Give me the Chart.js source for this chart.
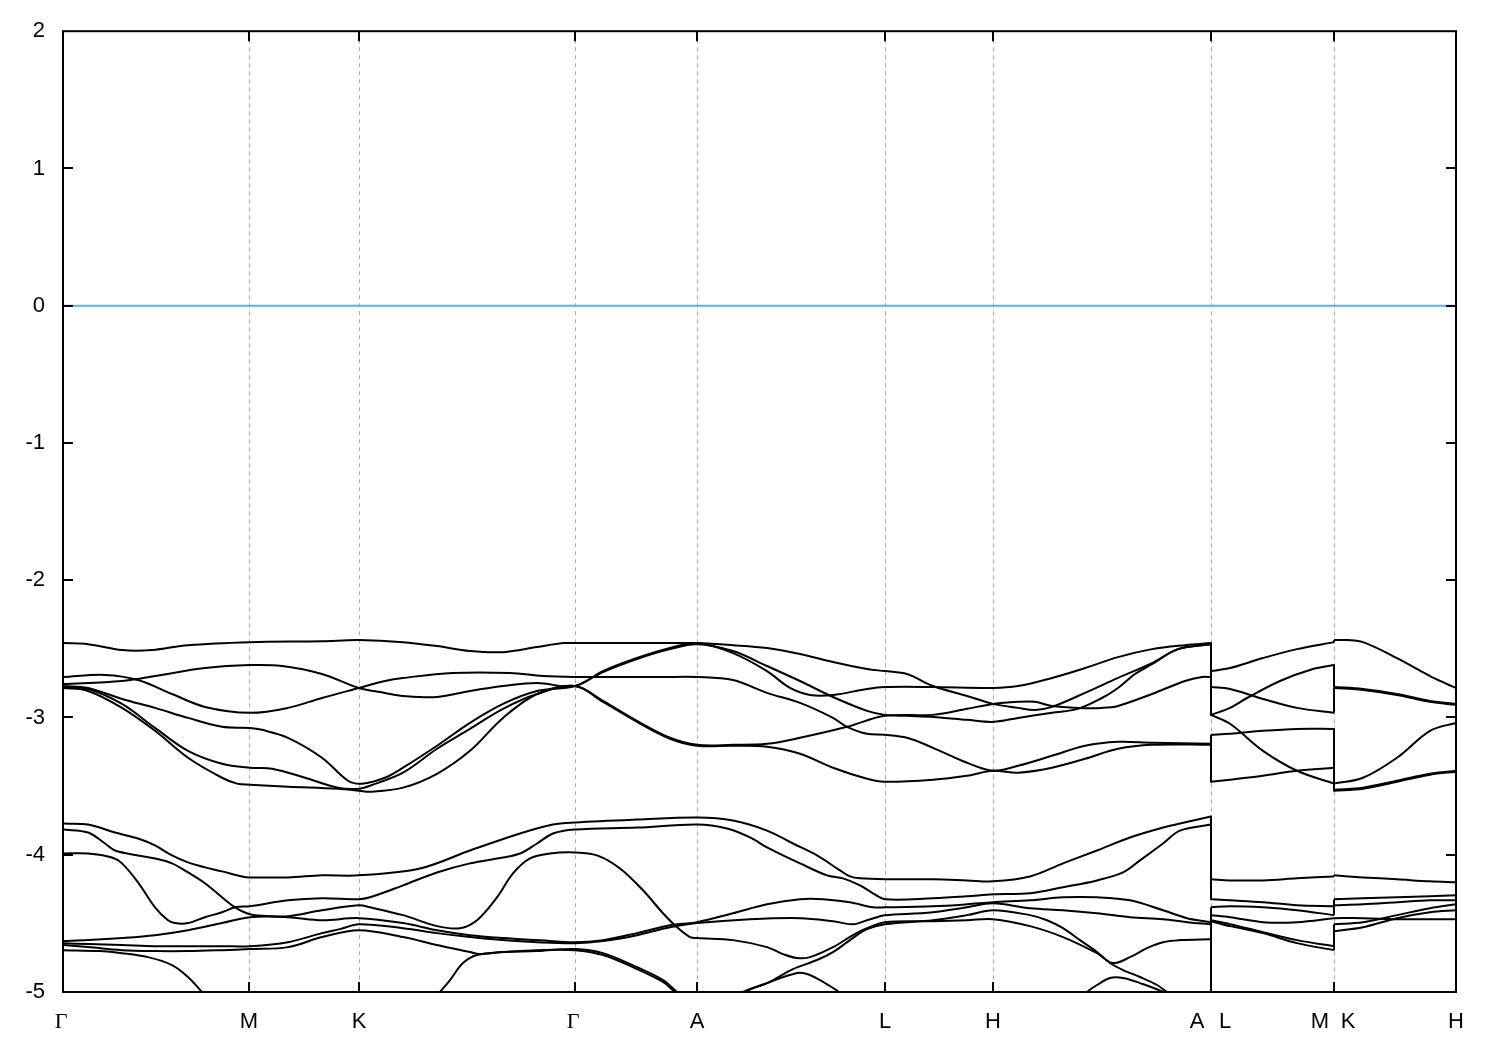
<!DOCTYPE html>
<html><head><meta charset="utf-8">
<script src="https://cdn.jsdelivr.net/npm/chart.js@4.4.1/dist/chart.umd.min.js"></script>
<style>html,body{margin:0;padding:0;background:#fff}canvas{display:block}</style>
</head><body>
<canvas id="c" width="1500" height="1050"></canvas>
<script>
// High-symmetry points along the k-path (path distance units)
const kTicks  = [0, 186, 296, 512, 634, 822, 930, 1148, 1271, 1393];
const kLabels = ['Γ', 'M', 'K', 'Γ', 'A', 'L', 'H', 'A|L', 'M|K', 'H'];
const energyMin = -5, energyMax = 2;
const fermiLevel = 0;

// Bands: [k, E] pairs; repeated k = path discontinuity; null = band out of view
const band1 = [[0,-2.458],[25,-2.466],[59,-2.509],[89,-2.509],[125,-2.473],[187,-2.451],[259,-2.444],[296,-2.436],[340,-2.451],[374,-2.480],[407,-2.516],[440,-2.524],[474,-2.487],[500,-2.458],[512,-2.458],[560,-2.458],[600,-2.458],[634,-2.458],[670,-2.473],[704,-2.494],[737,-2.538],[770,-2.596],[804,-2.647],[822,-2.662],[844,-2.683],[870,-2.771],[904,-2.843],[930,-2.901],[955,-2.930],[972,-2.945],[989,-2.923],[1022,-2.821],[1055,-2.712],[1089,-2.604],[1115,-2.502],[1148,-2.466],[1148,-2.778],[1167,-2.792],[1200,-2.865],[1234,-2.930],[1271,-2.966],[1271,-2.785],[1300,-2.800],[1334,-2.836],[1367,-2.886],[1393,-2.908]];
const band2 = [[0,-2.756],[59,-2.734],[92,-2.698],[142,-2.640],[187,-2.618],[219,-2.625],[259,-2.683],[296,-2.785],[322,-2.821],[340,-2.843],[374,-2.851],[407,-2.807],[440,-2.771],[474,-2.749],[512,-2.771],[540,-2.662],[574,-2.567],[607,-2.494],[634,-2.458],[670,-2.531],[704,-2.662],[727,-2.785],[747,-2.836],[770,-2.836],[804,-2.792],[822,-2.778],[870,-2.778],[930,-2.785],[955,-2.771],[989,-2.712],[1022,-2.640],[1055,-2.560],[1089,-2.502],[1122,-2.473],[1148,-2.458],[1148,-2.662],[1167,-2.640],[1200,-2.567],[1234,-2.502],[1271,-2.451],[1271,-2.436],[1284,-2.436],[1300,-2.451],[1334,-2.567],[1367,-2.698],[1384,-2.756],[1393,-2.785]];
const band3 = [[0,-2.771],[25,-2.785],[59,-2.865],[92,-2.930],[125,-3.003],[159,-3.068],[187,-3.076],[199,-3.090],[225,-3.148],[259,-3.293],[285,-3.461],[299,-3.482],[322,-3.439],[340,-3.366],[374,-3.206],[407,-3.039],[440,-2.901],[474,-2.807],[512,-2.771],[540,-2.669],[574,-2.574],[607,-2.502],[634,-2.466],[670,-2.516],[704,-2.625],[737,-2.734],[770,-2.851],[804,-2.952],[822,-2.981],[844,-2.988],[870,-2.996],[904,-3.017],[930,-3.032],[955,-3.003],[989,-2.966],[1015,-2.937],[1039,-2.858],[1055,-2.785],[1072,-2.683],[1089,-2.611],[1115,-2.502],[1148,-2.466],[1148,-2.981],[1167,-2.930],[1184,-2.858],[1217,-2.734],[1250,-2.647],[1271,-2.618],[1271,-2.778],[1300,-2.792],[1334,-2.829],[1367,-2.879],[1393,-2.901]];
const band4 = [[0,-2.705],[42,-2.690],[75,-2.727],[109,-2.829],[142,-2.923],[187,-2.966],[225,-2.930],[259,-2.858],[296,-2.785],[322,-2.734],[340,-2.712],[390,-2.676],[447,-2.676],[480,-2.698],[512,-2.705],[560,-2.705],[600,-2.705],[634,-2.705],[670,-2.727],[704,-2.821],[737,-2.894],[770,-3.003],[784,-3.068],[804,-3.119],[822,-3.126],[844,-3.148],[870,-3.221],[904,-3.330],[930,-3.388],[955,-3.352],[989,-3.279],[1022,-3.206],[1055,-3.177],[1089,-3.184],[1148,-3.192],[1148,-3.126],[1167,-3.119],[1200,-3.097],[1234,-3.083],[1271,-3.083],[1271,-3.482],[1300,-3.439],[1334,-3.293],[1367,-3.097],[1393,-3.039]];
const band5 = [[0,-2.778],[25,-2.792],[59,-2.901],[92,-3.076],[125,-3.243],[159,-3.337],[187,-3.366],[209,-3.373],[242,-3.439],[275,-3.511],[296,-3.519],[307,-3.497],[340,-3.402],[374,-3.228],[407,-3.083],[440,-2.937],[474,-2.829],[512,-2.771],[540,-2.879],[574,-3.025],[607,-3.148],[634,-3.199],[670,-3.199],[704,-3.192],[737,-3.148],[784,-3.068],[822,-2.988],[870,-2.981],[904,-2.937],[930,-2.901],[955,-2.886],[972,-2.886],[989,-2.916],[1015,-2.930],[1039,-2.930],[1055,-2.916],[1089,-2.829],[1122,-2.734],[1139,-2.705],[1148,-2.705],[1148,-2.981],[1167,-3.046],[1200,-3.243],[1234,-3.388],[1271,-3.482],[1271,-3.533],[1300,-3.519],[1334,-3.468],[1367,-3.417],[1393,-3.395]];
const band6 = [[0,-2.785],[25,-2.807],[59,-2.930],[92,-3.097],[125,-3.293],[159,-3.439],[174,-3.482],[187,-3.490],[225,-3.504],[275,-3.519],[296,-3.533],[307,-3.541],[340,-3.511],[374,-3.410],[407,-3.243],[440,-3.003],[474,-2.829],[512,-2.771],[540,-2.886],[574,-3.032],[607,-3.155],[634,-3.206],[670,-3.206],[704,-3.213],[737,-3.264],[770,-3.366],[804,-3.446],[822,-3.468],[870,-3.453],[904,-3.424],[930,-3.388],[955,-3.402],[989,-3.366],[1022,-3.301],[1055,-3.228],[1089,-3.199],[1148,-3.199],[1148,-3.468],[1167,-3.453],[1200,-3.424],[1234,-3.388],[1271,-3.366],[1271,-3.526],[1300,-3.511],[1334,-3.461],[1367,-3.410],[1393,-3.388]];
const band7 = [[0,-3.773],[25,-3.780],[52,-3.838],[75,-3.882],[92,-3.932],[109,-4.005],[125,-4.056],[142,-4.092],[159,-4.121],[179,-4.158],[187,-4.165],[225,-4.165],[259,-4.150],[296,-4.150],[357,-4.100],[407,-3.969],[457,-3.845],[490,-3.780],[512,-3.765],[574,-3.744],[634,-3.729],[670,-3.751],[704,-3.824],[730,-3.918],[754,-4.005],[777,-4.114],[787,-4.158],[797,-4.172],[822,-4.179],[870,-4.179],[904,-4.187],[930,-4.194],[967,-4.158],[1000,-4.063],[1034,-3.969],[1067,-3.874],[1100,-3.802],[1117,-3.773],[1148,-3.722],[1148,-4.179],[1167,-4.187],[1200,-4.187],[1234,-4.172],[1271,-4.158],[1271,-4.150],[1300,-4.165],[1334,-4.179],[1367,-4.194],[1393,-4.201]];
const band8 = [[0,-3.816],[25,-3.838],[42,-3.918],[52,-3.969],[75,-4.005],[92,-4.027],[109,-4.063],[125,-4.129],[142,-4.208],[159,-4.310],[172,-4.383],[187,-4.433],[209,-4.448],[225,-4.448],[259,-4.404],[296,-4.368],[307,-4.383],[340,-4.440],[374,-4.520],[397,-4.535],[414,-4.477],[434,-4.310],[450,-4.136],[467,-4.027],[487,-3.991],[512,-3.983],[534,-4.005],[557,-4.100],[580,-4.259],[600,-4.426],[614,-4.528],[627,-4.600],[634,-4.607],[670,-4.622],[704,-4.673],[720,-4.724],[734,-4.753],[747,-4.746],[770,-4.673],[790,-4.586],[804,-4.535],[822,-4.491],[870,-4.484],[904,-4.477],[930,-4.470],[967,-4.520],[1000,-4.600],[1034,-4.717],[1050,-4.789],[1067,-4.746],[1084,-4.680],[1100,-4.637],[1117,-4.622],[1148,-4.615],[1148,-4.477],[1167,-4.506],[1200,-4.564],[1234,-4.622],[1271,-4.666],[1271,-4.506],[1300,-4.491],[1334,-4.440],[1367,-4.390],[1393,-4.361]];
const band9 = [[0,-3.991],[25,-3.991],[49,-4.020],[59,-4.063],[75,-4.201],[92,-4.383],[105,-4.477],[112,-4.498],[125,-4.498],[142,-4.455],[159,-4.419],[172,-4.383],[187,-4.375],[225,-4.332],[259,-4.317],[296,-4.324],[307,-4.310],[340,-4.223],[374,-4.129],[407,-4.063],[440,-4.020],[457,-3.991],[474,-3.918],[490,-3.845],[512,-3.816],[574,-3.802],[634,-3.780],[664,-3.809],[687,-3.874],[704,-3.947],[720,-4.005],[737,-4.063],[764,-4.150],[780,-4.172],[797,-4.223],[810,-4.281],[822,-4.324],[870,-4.317],[904,-4.303],[930,-4.288],[967,-4.281],[1000,-4.237],[1034,-4.187],[1060,-4.129],[1077,-4.041],[1100,-3.918],[1117,-3.824],[1148,-3.780],[1148,-4.324],[1167,-4.332],[1200,-4.346],[1234,-4.368],[1271,-4.375],[1271,-4.324],[1300,-4.317],[1334,-4.310],[1367,-4.303],[1393,-4.295]];
const band10 = [[0,-4.629],[25,-4.622],[59,-4.607],[92,-4.586],[125,-4.550],[159,-4.498],[187,-4.455],[225,-4.455],[259,-4.477],[296,-4.462],[340,-4.498],[374,-4.550],[407,-4.586],[440,-4.607],[474,-4.622],[512,-4.637],[540,-4.622],[574,-4.571],[607,-4.513],[634,-4.491],[670,-4.426],[704,-4.361],[737,-4.324],[760,-4.324],[787,-4.346],[810,-4.383],[822,-4.383],[870,-4.375],[904,-4.361],[930,-4.346],[967,-4.332],[1000,-4.310],[1034,-4.310],[1067,-4.332],[1100,-4.404],[1124,-4.462],[1148,-4.491],[1148,-4.383],[1167,-4.375],[1200,-4.383],[1234,-4.404],[1271,-4.440],[1271,-4.368],[1300,-4.361],[1334,-4.346],[1367,-4.332],[1393,-4.332]];
const band11 = [[0,-4.644],[25,-4.651],[59,-4.658],[92,-4.666],[125,-4.666],[159,-4.666],[187,-4.666],[225,-4.637],[259,-4.571],[277,-4.542],[296,-4.506],[340,-4.535],[374,-4.571],[407,-4.600],[440,-4.622],[474,-4.637],[512,-4.644],[540,-4.629],[574,-4.586],[607,-4.528],[634,-4.498],[687,-4.470],[737,-4.462],[770,-4.484],[790,-4.506],[804,-4.477],[817,-4.448],[822,-4.440],[870,-4.419],[904,-4.383],[930,-4.354],[967,-4.390],[1000,-4.404],[1034,-4.426],[1067,-4.455],[1100,-4.470],[1124,-4.491],[1148,-4.506],[1148,-4.440],[1167,-4.455],[1200,-4.491],[1234,-4.491],[1271,-4.462],[1271,-4.462],[1300,-4.462],[1334,-4.470],[1367,-4.470],[1393,-4.470]];
const band12 = [[0,-4.658],[25,-4.673],[59,-4.695],[92,-4.702],[125,-4.702],[159,-4.695],[187,-4.687],[225,-4.673],[259,-4.600],[296,-4.550],[340,-4.600],[374,-4.658],[407,-4.709],[417,-4.724],[440,-4.709],[474,-4.702],[512,-4.687],[540,-4.717],[574,-4.819],[600,-4.913],[614,-5.000],[627,-5.080],[652,null],[672,-5.058],[680,-5.000],[704,-4.935],[730,-4.833],[754,-4.767],[770,-4.709],[787,-4.622],[804,-4.542],[822,-4.506],[870,-4.477],[904,-4.440],[930,-4.404],[967,-4.440],[984,-4.477],[1000,-4.535],[1017,-4.622],[1034,-4.709],[1047,-4.789],[1060,-4.840],[1077,-4.891],[1094,-4.949],[1104,-5.000],[1117,-5.058],[1148,-5.200],[1148,-4.484],[1167,-4.520],[1200,-4.571],[1234,-4.644],[1271,-4.695],[1271,-4.557],[1300,-4.528],[1334,-4.462],[1367,-4.419],[1393,-4.404]];
const band13 = [[0,-4.695],[37,-4.702],[59,-4.717],[85,-4.746],[109,-4.804],[125,-4.891],[139,-5.000],[147,-5.058],[257,null],[367,-5.094],[377,-5.000],[387,-4.913],[400,-4.789],[414,-4.731],[440,-4.709],[474,-4.695],[512,-4.695],[540,-4.731],[574,-4.833],[600,-4.927],[612,-5.000],[627,-5.087],[652,null],[674,-5.058],[682,-5.000],[704,-4.935],[734,-4.862],[744,-4.869],[757,-4.913],[770,-4.971],[777,-5.007],[787,-5.080],[897,null],[1017,-5.058],[1024,-5.000],[1034,-4.949],[1047,-4.898],[1060,-4.898],[1077,-4.935],[1100,-5.000],[1112,-5.058]];

const bands = [band1, band2, band3, band4, band5, band6, band7, band8, band9, band10, band11, band12, band13];

function lineDs(points, tension) {
  return { data: points, showLine: true, borderColor: '#000', borderWidth: 2, pointRadius: 0,
           tension: tension, fill: false, clip: 0, borderCapStyle: 'butt', borderJoinStyle: 'round' };
}
const datasets = [];
datasets.push({ data: [{x: kTicks[0], y: fermiLevel}, {x: kTicks[kTicks.length - 1], y: fermiLevel}],
  showLine: true, borderColor: '#56b4e9', borderWidth: 2, pointRadius: 0, tension: 0, clip: 0 });
bands.forEach(b => {
  let piece = [];
  for (const [k, e] of b) {
    if (e === null) { if (piece.length > 1) datasets.push(lineDs(piece, 0.35)); piece = []; continue; }
    const last = piece[piece.length - 1];
    if (last && last.x === k) {
      if (piece.length > 1) datasets.push(lineDs(piece, 0.35));
      datasets.push(lineDs([last, {x: k, y: e}], 0));
      piece = [{x: k, y: e}];
      continue;
    }
    piece.push({x: k, y: e});
  }
  if (piece.length > 1) datasets.push(lineDs(piece, 0.35));
});

const framePlugin = {
  id: 'frame',
  beforeDatasetsDraw(chart) {
    const {ctx, chartArea: a, scales: {x}} = chart;
    ctx.save();
    ctx.strokeStyle = '#a8a8a8'; ctx.lineWidth = 1; ctx.setLineDash([4, 4]);
    kTicks.slice(1, -1).forEach(k => {
      const px = Math.round(x.getPixelForValue(k)) + 0.5;
      ctx.beginPath(); ctx.moveTo(px, a.top); ctx.lineTo(px, a.bottom); ctx.stroke();
    });
    ctx.restore();
  },
  afterDatasetsDraw(chart) {
    const {ctx, chartArea: a, scales: {x, y}} = chart;
    ctx.save();
    ctx.strokeStyle = '#000'; ctx.lineWidth = 2; ctx.setLineDash([]);
    // y ticks (inward, mirrored)
    for (let v = energyMin + 1; v < energyMax; v++) {
      const py = Math.round(y.getPixelForValue(v));
      ctx.beginPath(); ctx.moveTo(a.left, py); ctx.lineTo(a.left + 10, py);
      ctx.moveTo(a.right, py); ctx.lineTo(a.right - 10, py); ctx.stroke();
    }
    // x ticks (inward, mirrored)
    kTicks.slice(1, -1).forEach(k => {
      const px = Math.round(x.getPixelForValue(k));
      ctx.beginPath(); ctx.moveTo(px, a.bottom); ctx.lineTo(px, a.bottom - 10);
      ctx.moveTo(px, a.top); ctx.lineTo(px, a.top + 10); ctx.stroke();
    });
    ctx.strokeRect(a.left, a.top, a.right - a.left, a.bottom - a.top);
    // x labels
    ctx.fillStyle = '#000'; ctx.textAlign = 'center'; ctx.textBaseline = 'alphabetic';
    const baseY = a.bottom + 36;
    kTicks.forEach((k, i) => {
      const px = x.getPixelForValue(k);
      const parts = kLabels[i].split('|');
      const offs = parts.length === 2 ? [-14, 14] : [0];
      parts.forEach((t, j) => {
        ctx.font = t === 'Γ' ? '22px "Liberation Serif", "DejaVu Serif", serif' : '22px "Liberation Sans", Arial, sans-serif';
        ctx.fillText(t, px + offs[j] - (t === 'Γ' ? 2 : 0), baseY);
      });
    });
    ctx.restore();
  }
};

new Chart(document.getElementById('c'), {
  type: 'scatter',
  data: { datasets },
  options: {
    responsive: false, animation: false, devicePixelRatio: 1,
    layout: { padding: { left: 0, right: 44, top: 28, bottom: 58 } },
    plugins: { legend: { display: false }, tooltip: { enabled: false } },
    scales: {
      x: { type: 'linear', min: kTicks[0], max: kTicks[kTicks.length - 1], display: false },
      y: { type: 'linear', min: energyMin, max: energyMax,
           grid: { display: false, drawTicks: false }, border: { display: false },
           ticks: { stepSize: 1, padding: 18, color: '#000', font: { family: '"Liberation Sans", Arial, sans-serif', size: 22 } },
           afterFit: s => { s.width = 63; } }
    }
  },
  plugins: [framePlugin]
});
</script>
</body></html>
